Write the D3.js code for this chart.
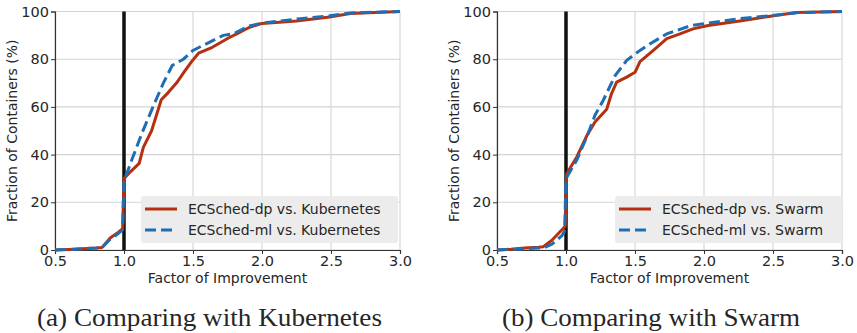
<!DOCTYPE html>
<html>
<head>
<meta charset="utf-8">
<script src="https://cdn.jsdelivr.net/npm/d3@7"></script>
<style>
  body { margin: 0; background: #fff; }
  svg text { font-family: "DejaVu Sans", sans-serif; fill: #262626; }
  .caption { font-family: "Liberation Serif", serif; }
</style>
</head>
<body>
<svg id="chart" width="857" height="333"></svg>
<script>
// x ticks and y ticks shared by both panels
const xTicks = [0.5, 1.0, 1.5, 2.0, 2.5, 3.0];
const yTicks = [0, 20, 40, 60, 80, 100];

// (a) Kubernetes
const kubeDpX = [0.5, 0.6, 0.7, 0.8, 0.84, 0.9, 0.96, 0.99, 1.0, 1.05, 1.11, 1.14, 1.2, 1.27, 1.32, 1.38, 1.44, 1.49, 1.54, 1.64, 1.76, 1.82, 1.91, 2.0, 2.25, 2.49, 2.64, 3.0];
const kubeDpY = [0, 0.2, 0.5, 0.8, 1.0, 5, 7.5, 9, 30, 33, 36.3, 43, 50, 63, 66, 70, 75, 79, 82.5, 85, 89, 90.7, 93.4, 95, 96, 97.7, 99.2, 100];
const kubeMlX = [0.5, 0.6, 0.7, 0.8, 0.84, 0.9, 0.96, 0.99, 1.0, 1.056, 1.13, 1.21, 1.285, 1.35, 1.43, 1.5, 1.58, 1.72, 1.79, 1.91, 2.0, 2.275, 2.49, 2.64, 3.0];
const kubeMlY = [0, 0.2, 0.5, 0.8, 1.0, 4.5, 7, 8.5, 29, 37.7, 49, 60, 70, 77.4, 80, 83.7, 86, 90, 90.6, 94, 95.1, 97, 98.2, 99.4, 100];

// (b) Swarm
const swarmDpX = [0.5, 0.6, 0.7, 0.8, 0.835, 0.896, 0.969, 0.995, 1.005, 1.078, 1.15, 1.21, 1.295, 1.33, 1.367, 1.44, 1.5, 1.536, 1.633, 1.73, 1.826, 1.92, 2.03, 2.26, 2.48, 2.67, 3.0];
const swarmDpY = [0, 0.3, 0.8, 1.2, 1.4, 4, 8.4, 10, 32, 39, 47.8, 53.7, 59, 65.6, 70.4, 72.5, 74.5, 79, 83.7, 88.6, 90.6, 92.7, 94.1, 96, 98, 99.6, 100];
const swarmMlX = [0.5, 0.6, 0.7, 0.8, 0.835, 0.9, 0.97, 0.99, 1.0, 1.078, 1.15, 1.21, 1.27, 1.355, 1.44, 1.536, 1.61, 1.73, 1.9, 2.02, 2.26, 2.48, 2.67, 3.0];
const swarmMlY = [0, 0.2, 0.5, 0.8, 0.8, 2.5, 6, 8, 30, 37.7, 47.4, 56.5, 62.8, 73, 79.5, 83.7, 86.5, 90.6, 94, 95.1, 97, 98.2, 99.5, 100];

const legendKube = ['ECSched-dp vs. Kubernetes', 'ECSched-ml vs. Kubernetes'];
const legendSwarm = ['ECSched-dp vs. Swarm', 'ECSched-ml vs. Swarm'];
const captions = ['(a) Comparing with Kubernetes', '(b) Comparing with Swarm'];

const red = '#b5300f';
const blue = '#1f6eb4';

const svg = d3.select('#chart');
svg.append('rect').attr('width', 857).attr('height', 333).attr('fill', '#fff');

function zip(xs, ys) {
  return xs.map((x, i) => ({ x: x, y: ys[i] }));
}

function drawPanel(left, right, dp, ml, labels, caption, legendBox, capBox) {
  const top = 11.5, bottom = 250;
  const x = d3.scaleLinear().domain([0.5, 3.0]).range([left, right]);
  const y = d3.scaleLinear().domain([0, 100]).range([bottom, top]);
  const g = svg.append('g');

  // grid
  g.selectAll('.gx').data(xTicks).enter().append('line')
    .attr('x1', d => x(d)).attr('x2', d => x(d))
    .attr('y1', top).attr('y2', bottom)
    .attr('stroke', '#d4d4d4').attr('stroke-width', 1.1);
  g.selectAll('.gy').data(yTicks).enter().append('line')
    .attr('x1', left).attr('x2', right)
    .attr('y1', d => y(d)).attr('y2', d => y(d))
    .attr('stroke', '#d4d4d4').attr('stroke-width', 1.1);

  // axes
  const xAxis = d3.axisBottom(x).tickValues(xTicks).tickFormat(d3.format('.1f')).tickSize(4).tickPadding(2);
  const yAxis = d3.axisLeft(y).tickValues(yTicks).tickSize(4).tickPadding(2);
  const ax = g.append('g').attr('transform', 'translate(0,' + bottom + ')').call(xAxis);
  const ay = g.append('g').attr('transform', 'translate(' + left + ',0)').call(yAxis);
  [ax, ay].forEach(a => {
    a.select('.domain').attr('stroke', '#333').attr('stroke-width', 1.2);
    a.selectAll('.tick line').attr('stroke', '#333');
    a.selectAll('.tick text').attr('font-size', 14.5).attr('fill', '#262626');
  });

  // reference line at 1.0
  g.append('line')
    .attr('x1', x(1)).attr('x2', x(1))
    .attr('y1', top).attr('y2', bottom)
    .attr('stroke', '#111').attr('stroke-width', 3.5);

  const line = d3.line().x(d => x(d.x)).y(d => y(d.y)).curve(d3.curveLinear);
  g.append('path').datum(dp).attr('d', line)
    .attr('fill', 'none').attr('stroke', red).attr('stroke-width', 3)
    .attr('stroke-linejoin', 'round');
  g.append('path').datum(ml).attr('d', line)
    .attr('fill', 'none').attr('stroke', blue).attr('stroke-width', 3)
    .attr('stroke-dasharray', '11,5');

  // axis titles
  g.append('text')
    .attr('x', (left + right) / 2).attr('y', 283)
    .attr('text-anchor', 'middle').attr('font-size', 14)
    .text('Factor of Improvement');
  g.append('text')
    .attr('transform', 'translate(' + (left - 38) + ',' + ((top + bottom) / 2) + ') rotate(-90)')
    .attr('text-anchor', 'middle').attr('font-size', 14)
    .text('Fraction of Containers (%)');

  // legend
  const lg = g.append('g').attr('transform', 'translate(' + legendBox[0] + ',' + legendBox[1] + ')');
  lg.append('rect').attr('width', legendBox[2]).attr('height', 47).attr('rx', 3)
    .attr('fill', '#ebebeb').attr('opacity', 0.95);
  [[red, null], [blue, '11,5']].forEach((s, i) => {
    const yy = 13 + i * 21;
    lg.append('line').attr('x1', 4).attr('x2', 36).attr('y1', yy).attr('y2', yy)
      .attr('stroke', s[0]).attr('stroke-width', 3)
      .attr('stroke-dasharray', s[1]);
    lg.append('text').attr('x', 47).attr('y', yy + 5).attr('font-size', 14).text(labels[i]);
  });

  // caption
  svg.append('text').attr('class', 'caption')
    .attr('x', capBox[0]).attr('y', 326)
    .attr('font-size', 25)
    .attr('textLength', capBox[1]).attr('lengthAdjust', 'spacingAndGlyphs')
    .text(caption);
}

drawPanel(55, 400, zip(kubeDpX, kubeDpY), zip(kubeMlX, kubeMlY), legendKube, captions[0], [141, 196, 257], [37, 345]);
drawPanel(497, 842, zip(swarmDpX, swarmDpY), zip(swarmMlX, swarmMlY), legendSwarm, captions[1], [615, 196, 227], [502, 298]);
</script>
</body>
</html>
